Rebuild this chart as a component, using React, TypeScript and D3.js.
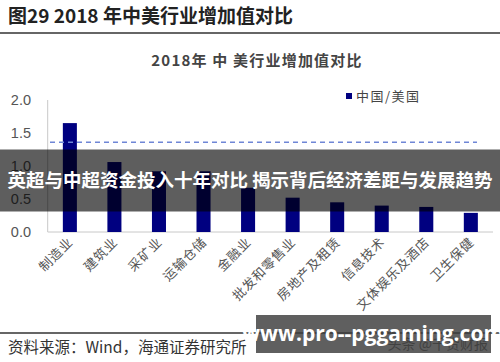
import React from 'react';
import * as d3 from 'd3';

const categories = ['制造业', '建筑业', '采矿业', '运输仓储', '金融业', '批发和零售业', '房地产及租赁', '信息技术', '文体娱乐及酒店', '卫生保健'];
const ratioValues = [1.65, 1.06, 0.92, 0.92, 0.67, 0.52, 0.45, 0.40, 0.38, 0.29];
const averageLine = 1.36;
const yTicks = [0, 0.5, 1.0, 1.5, 2.0];

const W = 500;
const H = 362;
const cjk = '"Noto Sans CJK SC", "Noto Sans", sans-serif';

export default function App() {
    const x = d3.scaleBand<string>()
        .domain(categories)
        .range([47.7, 493])
        .paddingInner(0.685)
        .paddingOuter(0.34);
    const y = d3.scaleLinear()
        .domain([0, 2])
        .range([232, 100]);

    return (
        <svg width={W} height={H} style={{ position: 'absolute', left: 0, top: 0, background: '#fff' }}>
            {/* header */}
            <text x={8} y={23} fontFamily={cjk} fontSize={19} fontWeight="bold" fill="#222">图29 2018 年中美行业增加值对比</text>
            <line x1={0} x2={W} y1={33} y2={33} stroke="#333" strokeWidth={1.5} />

            <text x={257} y={66} textAnchor="middle" fontFamily={cjk} fontSize={15} fontWeight="bold" fill="#444" letterSpacing={1.2}>2018年 中 美行业增加值对比</text>

            {/* legend */}
            <rect x={346} y={93} width={6} height={6} fill="#000080" />
            <text x={356} y={100.5} fontFamily={cjk} fontSize={13} fill="#444" letterSpacing={1.5}>中国/美国</text>

            {/* axes */}
            <line x1={47.7} x2={47.7} y1={y(2)} y2={y(0)} stroke="#c8c8c8" strokeWidth={1} />
            <line x1={47.7} x2={493} y1={y(0)} y2={y(0)} stroke="#c8c8c8" strokeWidth={1} />
            {yTicks.map(t => (
                <text key={t} x={31} y={y(t) + 5} textAnchor="end" fontFamily="Arial, 'Liberation Sans', sans-serif" fontSize={14.5} fill="#555">
                    {d3.format('.1f')(t)}
                </text>
            ))}

            {/* bars */}
            {categories.map((c, i) => (
                <rect key={c} x={x(c)} y={y(ratioValues[i])} width={x.bandwidth()} height={y(0) - y(ratioValues[i])} fill="#000080" />
            ))}

            {/* dashed reference line */}
            <line x1={50} x2={477} y1={y(averageLine)} y2={y(averageLine)} stroke="#6f86d6" strokeWidth={1.5} strokeDasharray="5,4" />

            {/* category labels */}
            {categories.map(c => {
                const cx = (x(c) ?? 0) + x.bandwidth() / 2 + 4;
                return (
                    <text key={c} transform={`translate(${cx},243) rotate(-45)`} textAnchor="end" fontFamily={cjk} fontSize={13} fill="#555" letterSpacing={0.8}>{c}</text>
                );
            })}

            {/* footer */}
            <line x1={0} x2={W} y1={333} y2={333} stroke="#333" strokeWidth={1.5} />
            <text x={8} y={353} fontFamily={cjk} fontSize={15.5} fill="#333">资料来源：Wind，海通证券研究所</text>
            <text x={488} y={349} textAnchor="end" fontFamily={cjk} fontSize={14} fill="#555">头条 @千贷财报</text>

            {/* overlay banner */}
            <rect x={0} y={149.5} width={W} height={62} fill="rgba(0,0,0,0.63)" />
            <text x={250} y={187} textAnchor="middle" fontFamily={cjk} fontSize={18.5} fontWeight="bold" fill="#fff">英超与中超资金投入十年对比 揭示背后经济差距与发展趋势</text>

            {/* watermark */}
            <rect x={256} y={315} width={235} height={38} fill="rgba(60,60,60,0.82)" />
            <text x={373} y={341} textAnchor="middle" fontFamily="'Open Sans', 'DejaVu Sans', sans-serif" fontSize={21} fontWeight="bold" fill="#fff">www.pro--pggaming.com</text>
        </svg>
    );
}
